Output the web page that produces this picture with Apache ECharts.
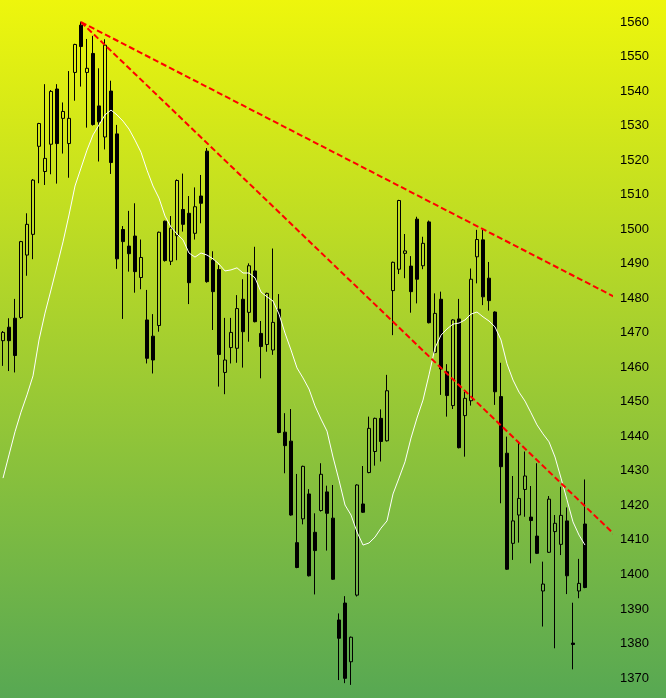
<!DOCTYPE html>
<html>
<head>
<meta charset="utf-8">
<script src="https://cdn.jsdelivr.net/npm/echarts@6/dist/echarts.min.js"></script>
<style>
html,body{margin:0;padding:0;}
#chart{width:666px;height:698px;}
</style>
</head>
<body>
<div id="chart"></div>
<script>
// ---- data ----
const categories = Array.from({length: 102}, (_, i) => 'D' + (i + 1));
const opens = [1467.7,1471.6,1474.2,1474.4,1492.5,1498.5,1524.0,1516.7,1524.6,1540.6,
1532.1,1524.8,1545.4,1559.1,1545.4,1550.9,1535.7,1526.7,1540.0,1527.6,
1499.9,1495.1,1498.0,1486.0,1473.7,1469.0,1472.1,1502.3,1490.7,1498.1,
1505.7,1504.6,1498.8,1509.6,1522.6,1491.0,1488.3,1458.5,1465.7,1465.5,
1479.7,1475.9,1487.9,1469.8,1466.6,1465.0,1476.8,1441.2,1438.6,1409.2,
1416.1,1423.3,1412.2,1418.5,1423.9,1416.3,1386.8,1391.7,1374.7,1394.0,
1420.4,1429.5,1435.6,1445.2,1438.7,1482.2,1488.4,1493.0,1489.3,1502.9,
1489.4,1502.1,1464.3,1479.7,1458.7,1448.9,1474.0,1446.0,1450.3,1492.0,
1496.9,1485.8,1476.0,1451.5,1435.1,1409.0,1417.2,1424.6,1416.6,1411.1,
1395.2,1406.4,1412.4,1408.7,1415.5,1380.1,1395.2,1414.6];
const closes = [1470.1,1467.7,1463.4,1496.4,1501.4,1514.2,1530.6,1520.5,1539.9,1524.8,
1534.1,1532.1,1553.5,1552.9,1546.6,1530.3,1531.1,1553.3,1519.3,1491.4,
1496.4,1492.9,1487.7,1491.8,1462.6,1462.1,1499.1,1490.9,1500.3,1514.1,
1501.4,1484.5,1506.5,1507.5,1484.8,1481.9,1463.7,1462.1,1470.1,1477.0,
1470.3,1489.4,1473.2,1466.0,1481.4,1473.0,1441.1,1437.3,1417.2,1402.0,
1431.3,1399.6,1406.9,1429.0,1417.7,1398.6,1381.5,1369.9,1381.8,1425.9,
1418.0,1442.3,1445.2,1438.5,1453.2,1490.4,1508.3,1493.7,1481.9,1485.5,
1495.9,1472.9,1475.6,1459.5,1451.8,1473.7,1436.7,1451.0,1485.5,1497.0,
1480.4,1479.3,1452.9,1431.2,1401.5,1415.5,1422.0,1428.5,1415.6,1406.1,
1397.2,1421.8,1414.8,1417.1,1399.6,1379.7,1397.4,1396.2];
const lows = [1460.4,1458.9,1458.5,1474.0,1486.5,1491.3,1513.3,1512.8,1515.9,1513.2,
1521.9,1514.9,1537.2,1541.3,1529.4,1530.0,1519.6,1523.1,1516.0,1488.5,
1474.0,1487.7,1481.6,1482.6,1461.1,1458.2,1470.3,1490.6,1489.6,1491.0,
1499.3,1478.3,1497.0,1501.7,1484.5,1470.8,1454.4,1452.2,1461.1,1461.3,
1459.9,1467.4,1473.0,1456.8,1464.5,1463.6,1440.9,1429.3,1417.0,1401.8,
1414.5,1399.4,1394.2,1418.2,1406.9,1398.4,1369.4,1368.5,1368.0,1393.6,
1417.8,1429.3,1431.5,1432.7,1438.5,1469.3,1487.0,1485.8,1475.8,1478.5,
1488.4,1472.7,1464.0,1452.0,1445.7,1447.9,1436.5,1434.1,1448.9,1484.3,
1478.0,1476.4,1449.1,1420.6,1401.3,1404.2,1409.2,1416.7,1403.2,1405.9,
1384.9,1406.2,1378.6,1405.6,1394.3,1372.5,1393.1,1396.0];
const highs = [1470.5,1474.2,1479.8,1496.6,1504.6,1514.5,1530.8,1542.0,1540.3,1542.0,
1536.7,1545.8,1553.7,1560.1,1555.1,1556.0,1546.6,1555.0,1543.0,1530.2,
1500.9,1505.3,1507.5,1497.0,1482.4,1475.4,1499.3,1502.5,1503.8,1514.4,
1516.1,1509.6,1512.1,1515.7,1523.5,1493.6,1489.6,1474.3,1474.3,1480.9,
1485.5,1490.1,1494.9,1473.4,1481.6,1494.4,1481.2,1446.7,1447.9,1429.1,
1431.5,1424.7,1417.7,1432.2,1425.7,1425.9,1388.7,1393.7,1382.0,1426.1,
1431.4,1445.7,1445.4,1447.8,1457.8,1490.6,1508.5,1498.6,1492.2,1503.6,
1497.8,1502.5,1481.4,1481.9,1460.9,1473.9,1479.8,1452.9,1488.6,1499.8,
1499.8,1490.5,1476.2,1461.3,1439.9,1428.5,1438.6,1435.6,1425.6,1432.2,
1403.7,1422.7,1417.2,1425.4,1419.4,1391.8,1404.5,1427.5];
const movingAvg = [1427.9,1434.6,1441.3,1447.0,1452.0,1457.5,1467.9,1475.7,1482.4,1489.3,
1496.3,1504.1,1512.5,1517.7,1522.9,1527.3,1530.2,1533.1,1534.5,1533.1,
1531.3,1529.0,1525.8,1522.3,1517.1,1512.5,1509.0,1503.8,1500.6,1498.6,
1496.9,1493.1,1491.9,1493.1,1492.5,1491.4,1489.9,1487.9,1488.2,1488.8,
1487.3,1487.3,1485.9,1481.8,1480.4,1479.2,1475.4,1469.9,1465.0,1459.8,
1456.9,1453.7,1448.8,1445.0,1441.5,1434.0,1427.3,1420.1,1417.2,1412.3,
1408.5,1409.1,1410.8,1413.4,1415.5,1423.3,1427.9,1432.6,1439.5,1445.3,
1450.5,1457.8,1465.6,1469.3,1471.1,1472.5,1472.8,1473.7,1475.4,1476.0,
1474.6,1473.4,1471.7,1467.9,1461.0,1456.3,1452.8,1450.2,1446.8,1443.3,
1440.7,1438.4,1434.0,1427.9,1421.6,1415.2,1411.4,1408.5];
const upperTrend = [[13, 1560.0], [102, 1480.3]];
const lowerTrend = [[13, 1560.0], [102, 1411.4]];
const yTicks = {min: 1360, max: 1570, step: 10};

// ---- chart ----
const candles = opens.map((o, i) => [o, closes[i], lows[i], highs[i]]);
const chart = echarts.init(document.getElementById('chart'), null, {renderer: 'canvas'});
const dashStyle = {color: '#ff0000', width: 2, type: [6, 3]};
chart.setOption({
  animation: false,
  backgroundColor: {
    type: 'linear', x: 0, y: 0, x2: 0, y2: 1,
    colorStops: [
      {offset: 0, color: '#eef60c'},
      {offset: 0.5, color: '#a3ce30'},
      {offset: 1, color: '#57a853'}
    ]
  },
  grid: {left: 0, width: 612, top: -12.5, height: 725, containLabel: false, outerBoundsMode: 'none'},
  xAxis: [
    {type: 'category', data: categories, show: false, boundaryGap: true},
    {type: 'value', min: -0.5, max: categories.length - 0.5, show: false}
  ],
  yAxis: {
    type: 'value', position: 'right',
    min: yTicks.min, max: yTicks.max, interval: yTicks.step,
    axisLine: {show: false}, axisTick: {show: false}, splitLine: {show: false},
    axisLabel: {color: '#000', fontSize: 13, fontFamily: 'Liberation Sans', margin: 8,
      showMinLabel: false, showMaxLabel: false, formatter: v => String(v)}
  },
  series: [
    {
      type: 'candlestick', data: candles, barWidth: 4,
      itemStyle: {color: 'transparent', color0: '#000', borderColor: '#000', borderColor0: '#000', borderWidth: 1}
    },
    {
      type: 'line', data: movingAvg, symbol: 'none', smooth: false,
      lineStyle: {color: '#ffffff', width: 1}
    },
    {
      type: 'line', xAxisIndex: 1, data: upperTrend, symbol: 'none', clip: false,
      lineStyle: dashStyle
    },
    {
      type: 'line', xAxisIndex: 1, data: lowerTrend, symbol: 'none', clip: false,
      lineStyle: dashStyle
    }
  ]
});
</script>
</body>
</html>
